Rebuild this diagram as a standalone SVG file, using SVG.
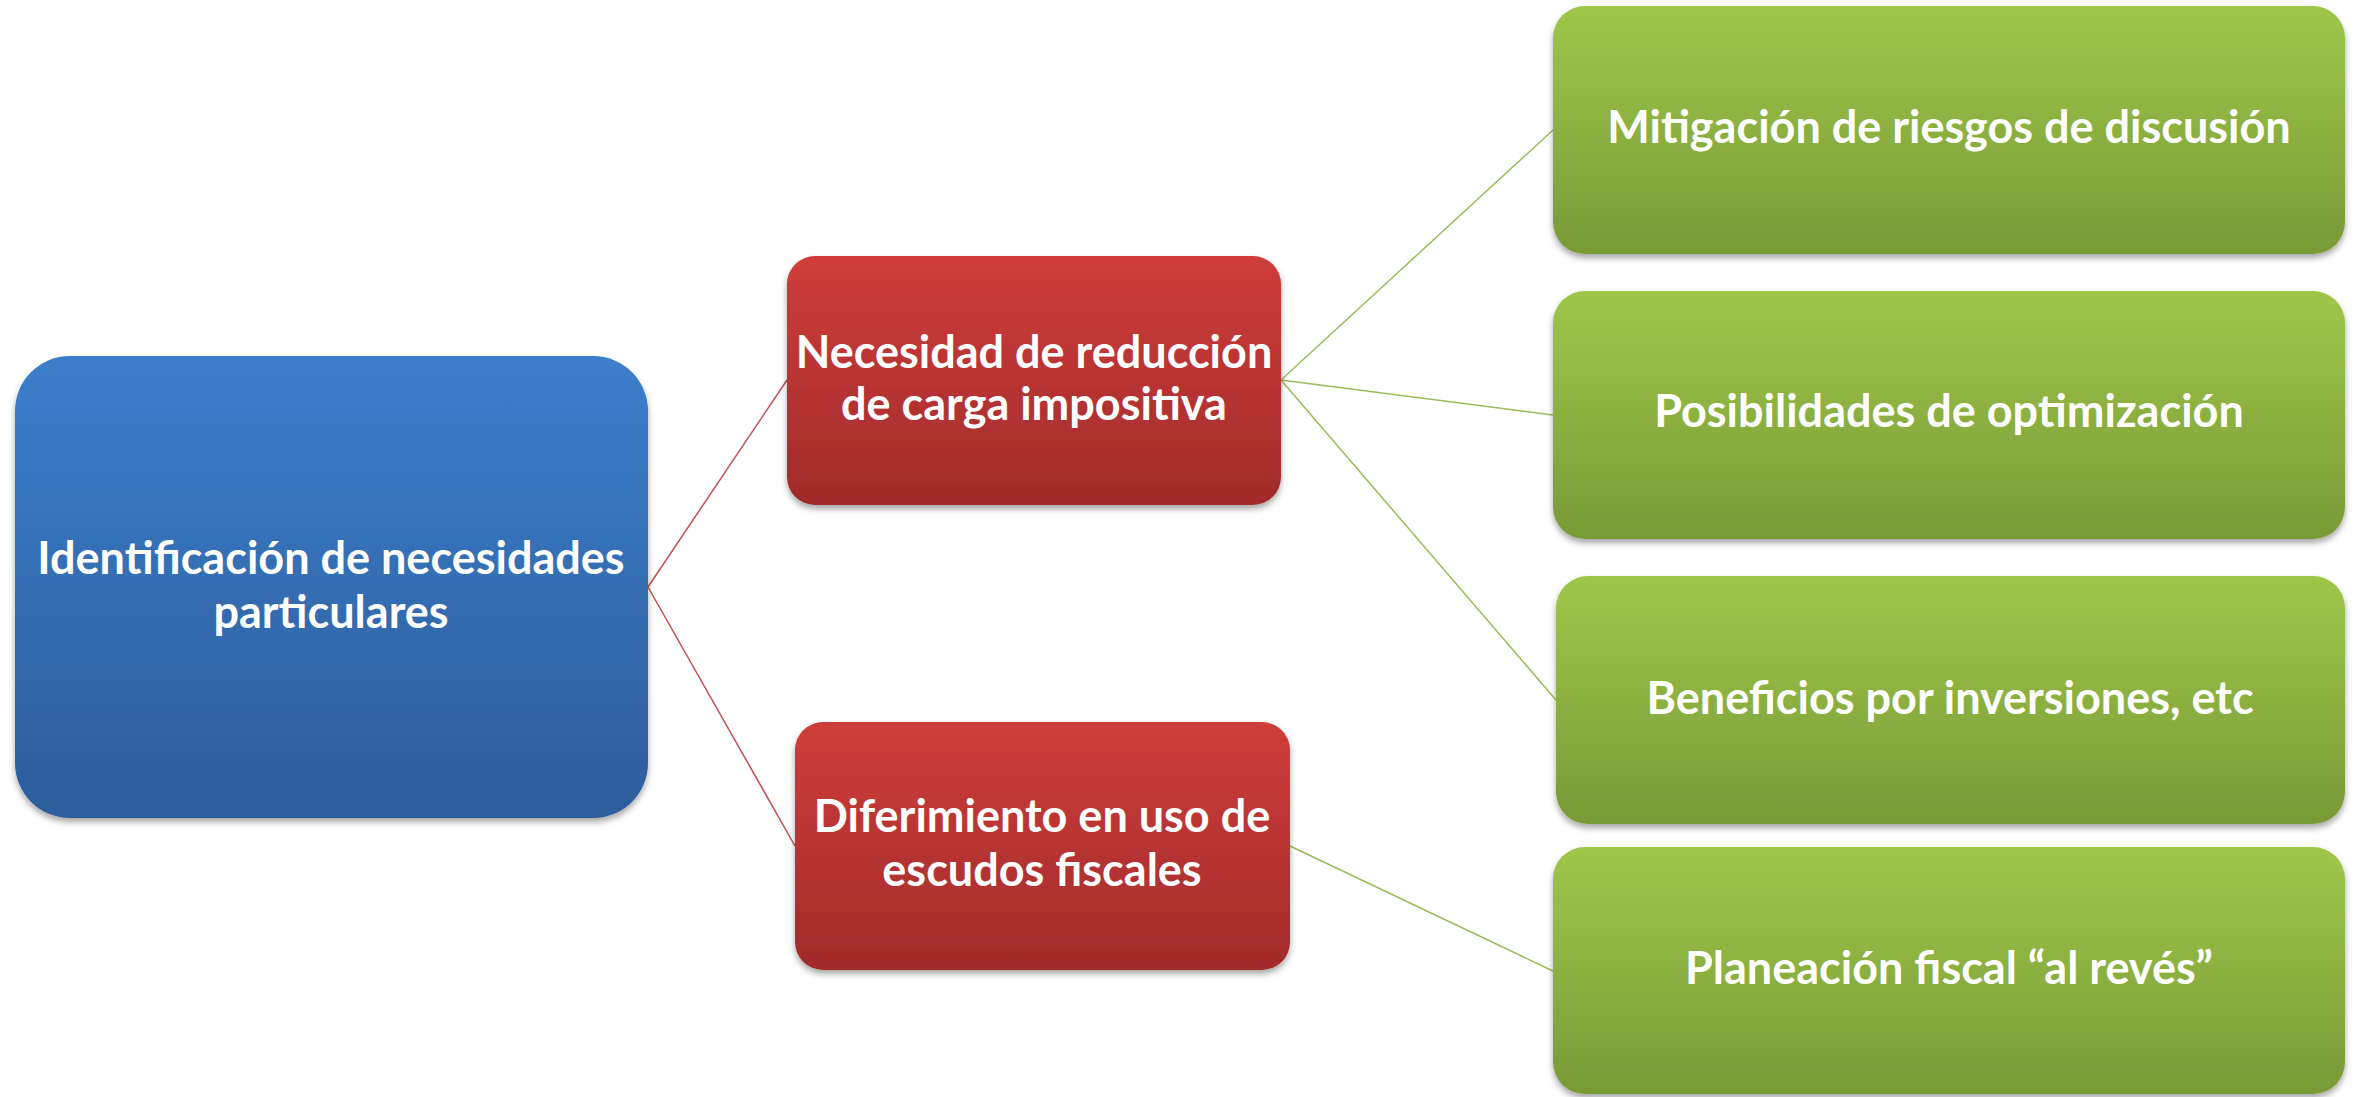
<svg xmlns="http://www.w3.org/2000/svg" width="2362" height="1097" viewBox="0 0 2362 1097">
<defs>
<linearGradient id="gBlue" x1="0" y1="0" x2="0" y2="1"><stop offset="0" stop-color="#3c7ecb"/><stop offset="1" stop-color="#2d5d9b"/></linearGradient>
<linearGradient id="gRed" x1="0" y1="0" x2="0" y2="1"><stop offset="0" stop-color="#cf3d3a"/><stop offset="1" stop-color="#a12b2b"/></linearGradient>
<linearGradient id="gGreen" x1="0" y1="0" x2="0" y2="1"><stop offset="0" stop-color="#9ec74a"/><stop offset="1" stop-color="#799a38"/></linearGradient>
<filter id="sh" x="-5%" y="-5%" width="110%" height="115%"><feDropShadow dx="0" dy="4" stdDeviation="3" flood-color="#000" flood-opacity="0.35"/></filter>
</defs>
<style>
.t{font-family:"Lato","Liberation Sans",sans-serif;font-weight:700;font-size:45px;fill:#fff;text-anchor:middle}
.cr{stroke:#c0504d;stroke-width:1.5;fill:none}
.cg{stroke:#9bbb59;stroke-width:1.5;fill:none}
</style>
<rect width="2362" height="1097" fill="#fff"/>
<g id="connectors">
<line class="cr" x1="648" y1="587" x2="787" y2="380"/>
<line class="cr" x1="648" y1="587" x2="795" y2="846"/>
<line class="cg" x1="1281" y1="380" x2="1553" y2="130"/>
<line class="cg" x1="1281" y1="380" x2="1553" y2="415"/>
<line class="cg" x1="1281" y1="380" x2="1556" y2="700"/>
<line class="cg" x1="1290" y1="846" x2="1553" y2="971"/>
</g>
<g id="n-root"><rect x="15" y="356" width="633" height="462" rx="55" fill="url(#gBlue)" filter="url(#sh)"/>
<text class="t" x="331" y="574">Identificación de necesidades</text><text class="t" x="331" y="628">particulares</text></g>
<g id="n-red1"><rect x="787" y="256" width="494" height="249" rx="28" fill="url(#gRed)" filter="url(#sh)"/>
<text class="t" x="1034" y="368">Necesidad de reducción</text><text class="t" x="1034" y="420">de carga impositiva</text></g>
<g id="n-red2"><rect x="795" y="722" width="495" height="248" rx="28" fill="url(#gRed)" filter="url(#sh)"/>
<text class="t" x="1042" y="832">Diferimiento en uso de</text><text class="t" x="1042" y="886">escudos fiscales</text></g>
<g id="n-g1"><rect x="1553" y="6" width="792" height="248" rx="32" fill="url(#gGreen)" filter="url(#sh)"/>
<text class="t" x="1949" y="143">Mitigación de riesgos de discusión</text></g>
<g id="n-g2"><rect x="1553" y="291" width="792" height="248" rx="32" fill="url(#gGreen)" filter="url(#sh)"/>
<text class="t" x="1949" y="427">Posibilidades de optimización</text></g>
<g id="n-g3"><rect x="1556" y="576" width="789" height="248" rx="32" fill="url(#gGreen)" filter="url(#sh)"/>
<text class="t" x="1950" y="714">Beneficios por inversiones, etc</text></g>
<g id="n-g4"><rect x="1553" y="847" width="792" height="247" rx="32" fill="url(#gGreen)" filter="url(#sh)"/>
<text class="t" x="1949" y="984">Planeación fiscal “al revés”</text></g>
</svg>
